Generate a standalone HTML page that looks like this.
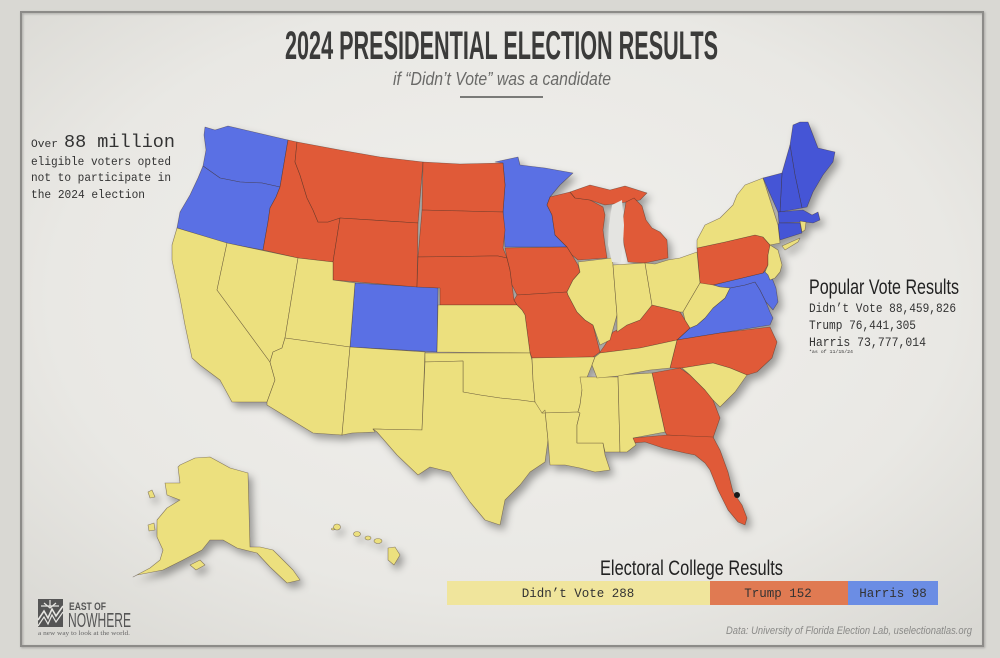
<!DOCTYPE html>
<html><head><meta charset="utf-8">
<style>
html,body{margin:0;padding:0;background:#d8d7d2;}
svg{display:block;}
</style></head>
<body>
<svg width="1000" height="658" viewBox="0 0 1000 658" xmlns="http://www.w3.org/2000/svg">
<defs>
<radialGradient id="bg" cx="50%" cy="45%" r="72%">
<stop offset="0" stop-color="#f1f0ed"/>
<stop offset="0.65" stop-color="#e9e8e4"/>
<stop offset="1" stop-color="#d9d8d3"/>
</radialGradient>
<filter id="sh" x="-10%" y="-10%" width="130%" height="130%">
<feDropShadow dx="4" dy="5" stdDeviation="4" flood-color="#000" flood-opacity="0.35"/>
</filter>
<filter id="fs" x="-5%" y="-5%" width="110%" height="110%">
<feDropShadow dx="1" dy="1" stdDeviation="1" flood-color="#000" flood-opacity="0.25"/>
</filter>
</defs>
<rect x="0" y="0" width="1000" height="658" fill="#d9d8d3"/>
<rect x="21" y="12" width="962" height="634" fill="url(#bg)"/>
<rect x="21" y="12" width="962" height="634" fill="none" stroke="#8c8b88" stroke-width="2" filter="url(#fs)"/>

<!-- Title -->
<text x="285" y="59" textLength="433" lengthAdjust="spacingAndGlyphs" font-family="'Liberation Sans Narrow','Liberation Sans',sans-serif" font-weight="bold" font-size="40" fill="#3b3b3a">2024 PRESIDENTIAL ELECTION RESULTS</text>
<text x="393" y="85" textLength="218" lengthAdjust="spacingAndGlyphs" font-family="'Liberation Sans Narrow','Liberation Sans',sans-serif" font-style="italic" font-size="18" fill="#6a6a68">if “Didn’t Vote” was a candidate</text>
<rect x="460" y="96" width="83" height="2" fill="#7a7a78"/>

<!-- Left text -->
<g font-family="'Liberation Mono',monospace" fill="#333">
<text x="31" y="147" font-size="11" textLength="27" lengthAdjust="spacingAndGlyphs">Over</text>
<text x="64" y="147" font-size="18" textLength="111" lengthAdjust="spacingAndGlyphs">88 million</text>
<text x="31" y="165" font-size="12" textLength="140" lengthAdjust="spacingAndGlyphs">eligible voters opted</text>
<text x="31" y="181" font-size="12" textLength="140" lengthAdjust="spacingAndGlyphs">not to participate in</text>
<text x="31" y="198" font-size="12" textLength="114" lengthAdjust="spacingAndGlyphs">the 2024 election</text>
</g>

<!-- Map -->
<g filter="url(#sh)" stroke="#3a2a20" stroke-width="0.6" stroke-opacity="0.55" stroke-linejoin="round">
<!-- blue -->
<g fill="#5a70e4">
<polygon points="205,127 215,130 228,126 258,133 288,140 280,187 262,183 240,182 220,178 203,166 206,150 204,135"/>
<polygon points="203,166 220,178 240,182 262,183 280,187 276,197 270,208 268,222 263,250 225,243 177,228 180,212 190,195 198,178"/>
<polygon points="355,283 438,288 437,352 350,347"/>
<polygon points="495,162 518,157 520,165 545,168 573,173 560,185 550,197 547,205 552,215 555,235 567,247 505,247 503,212 505,185 503,163"/>
<polygon points="677,340 690,328 697,325 705,318 713,308 725,298 730,288 745,285 755,282 760,290 765,300 770,312 773,318 770,325 720,333"/>
<polygon points="713,285 763,273 768,268 772,278 776,288 778,302 773,310 766,302 760,290 755,282 745,285 730,288 720,287"/>
</g>
<g fill="#4455d6">
<polygon points="793,125 800,122 808,122 818,148 835,152 833,162 823,175 813,192 807,207 802,208 795,175 790,145"/>
<polygon points="790,145 795,175 802,208 780,212 782,173"/>
<polygon points="763,178 782,173 780,212 778,212"/>
<polygon points="778,212 803,210 812,215 818,212 820,220 813,223 805,222 779,223"/>
<polygon points="779,223 800,223 802,233 780,240 778,225"/>
</g>
<!-- red -->
<g fill="#e05a37">
<polygon points="288,140 297,142 295,162 300,175 307,198 313,210 318,222 328,222 340,218 333,262 298,258 263,250 268,222 270,208 276,197 280,187"/>
<polygon points="297,142 340,150 380,157 423,162 418,223 340,218 328,222 318,222 313,210 307,198 300,175 295,162"/>
<polygon points="423,162 460,164 503,163 505,185 503,212 422,210"/>
<polygon points="422,210 503,212 505,230 503,248 507,258 498,256 490,256 418,257"/>
<polygon points="340,218 418,223 417,287 333,280 333,262"/>
<polygon points="418,257 490,256 498,256 507,258 510,270 512,285 514,300 517,305 440,305 440,288 417,287"/>
<polygon points="505,248 567,247 572,255 578,265 580,272 573,280 567,292 517,295 512,285 510,270 507,258"/>
<polygon points="517,295 567,292 568,295 577,312 585,320 593,325 600,352 592,358 590,357 532,358 530,353 525,315 522,310 517,305 514,300"/>
<polygon points="550,197 570,192 575,198 590,200 603,207 605,215 603,230 605,245 607,258 578,260 572,255 567,247 555,235 552,215 547,205"/>
<polygon points="570,192 590,185 610,190 625,186 647,193 640,200 620,203 605,205 590,200 575,198"/>
<polygon points="626,202 634,198 642,206 646,220 652,228 660,232 667,240 668,258 645,263 628,262 624,245 622,225"/>
<polygon points="600,352 605,345 613,332 627,325 640,320 652,305 665,308 680,312 685,320 690,328 677,340 640,348 600,353"/>
<polygon points="697,248 725,242 755,235 763,237 770,245 768,255 768,265 763,273 713,285 703,285 700,283"/>
<polygon points="677,340 720,333 770,327 777,342 772,358 757,372 747,375 730,368 713,363 682,368 670,368 674,352"/>
<polygon points="652,373 680,368 690,375 705,390 713,400 720,418 713,438 667,435 665,432"/>
<polygon points="633,438 667,435 713,437 720,450 728,472 733,492 742,505 747,518 745,525 738,522 728,510 718,490 710,470 705,463 695,455 685,453 663,448 645,442 633,443"/>
</g>
<!-- yellow -->
<g fill="#ece07e">
<polygon points="177,228 227,243 217,290 270,362 275,380 267,402 232,402 220,380 200,365 192,358 185,325 180,298 172,260 172,245"/>
<polygon points="227,243 298,258 285,338 282,348 273,352 270,362 217,290"/>
<polygon points="298,258 333,262 333,280 355,283 350,347 285,338"/>
<polygon points="285,338 350,347 342,435 313,433 267,405 267,402 275,380 270,362 273,352 282,348"/>
<polygon points="350,347 425,352 422,430 373,429 375,432 352,433 342,435"/>
<polygon points="438,305 517,305 522,310 525,315 530,353 437,352"/>
<polygon points="425,353 530,353 532,360 533,380 535,402 520,400 500,398 480,395 463,392 463,361 425,362"/>
<polygon points="425,362 463,361 463,392 480,395 500,398 520,400 535,402 545,410 548,440 545,462 530,472 520,485 505,500 500,525 485,520 470,502 455,480 450,472 430,467 418,475 397,455 377,432 373,429 422,430"/>
<polygon points="532,358 590,357 595,357 592,365 588,375 582,390 580,405 578,412 542,413 535,402 533,380"/>
<polygon points="542,413 578,412 580,413 577,425 577,443 603,443 605,455 610,470 595,472 580,468 565,465 550,465 548,440 545,410"/>
<polygon points="580,377 618,377 620,452 605,452 603,443 577,443 577,425 580,413 578,412 580,405 582,390"/>
<polygon points="618,375 652,373 665,432 633,438 636,445 627,452 620,452"/>
<polygon points="682,368 713,363 730,368 747,375 735,392 720,407 713,400 705,390 690,375"/>
<polygon points="600,353 640,348 677,340 670,368 650,370 618,376 597,378 592,365 595,357"/>
<polygon points="578,262 612,258 613,265 617,315 615,322 610,340 600,345 593,325 585,320 577,312 568,295 567,292 573,280 580,272"/>
<polygon points="613,265 645,263 652,305 640,320 627,325 617,332 617,315"/>
<polygon points="645,263 655,264 668,260 680,258 697,252 700,283 690,300 683,312 680,312 665,308 652,305"/>
<polygon points="700,283 713,285 720,287 730,288 725,298 713,308 705,318 697,325 690,328 685,320 683,312 690,300"/>
<polygon points="697,248 697,240 705,225 720,218 733,205 737,195 745,185 763,178 778,225 780,243 770,245 763,237 755,235 725,242"/>
<polygon points="770,245 778,250 782,265 780,272 775,278 770,280 768,275 765,272 768,265 768,255"/>
<polygon points="782,246 800,238 798,242 785,250"/>
<polygon points="800,221 806,222 805,230 802,232"/>
<!-- Alaska -->
<polygon points="180,465 195,458 210,457 230,468 248,473 250,547 260,547 273,550 285,562 293,570 300,580 287,583 270,567 257,553 237,548 223,540 210,540 202,550 183,560 163,570 137,575 133,577 150,568 160,560 163,550 157,537 157,520 167,508 180,500 167,495 165,483 180,483 178,467"/>
<polygon points="190,565 200,560 205,565 196,570"/>
<polygon points="148,492 152,490 155,497 150,498"/>
<polygon points="148,525 154,523 155,530 149,531"/>
<!-- Hawaii -->
<ellipse cx="333" cy="529" rx="1.5" ry="1"/>
<ellipse cx="337" cy="527" rx="3.5" ry="3"/>
<ellipse cx="357" cy="534" rx="3.5" ry="2.5"/>
<ellipse cx="368" cy="538" rx="3" ry="2"/>
<ellipse cx="378" cy="541" rx="4" ry="2.5"/>
<polygon points="388,548 395,547 400,555 394,565 388,560"/>
</g>
</g>
<!-- Lake Michigan -->
<polygon points="612,205 622,200 624,225 623,245 621,262 612,262 608,245 609,225" fill="#e4e4e1"/>
<circle cx="737" cy="495" r="3" fill="#1a1a1a"/>

<!-- Popular vote -->
<text x="809" y="294" textLength="150" lengthAdjust="spacingAndGlyphs" font-family="'Liberation Sans Narrow','Liberation Sans',sans-serif" font-size="21" fill="#222">Popular Vote Results</text>
<g font-family="'Liberation Mono',monospace" fill="#333" font-size="12.5">
<text x="809" y="312" textLength="147" lengthAdjust="spacingAndGlyphs">Didn’t Vote 88,459,826</text>
<text x="809" y="329" textLength="107" lengthAdjust="spacingAndGlyphs">Trump 76,441,305</text>
<text x="809" y="346" textLength="117" lengthAdjust="spacingAndGlyphs">Harris  73,777,014</text>
<text x="809" y="353" font-size="4.5" textLength="44" lengthAdjust="spacingAndGlyphs">*as of 11/15/24</text>
</g>

<!-- Electoral College -->
<text x="600" y="575" textLength="183" lengthAdjust="spacingAndGlyphs" font-family="'Liberation Sans Narrow','Liberation Sans',sans-serif" font-size="21" fill="#222">Electoral College Results</text>
<rect x="447" y="581" width="263" height="24" fill="#f0e59c"/>
<rect x="710" y="581" width="138" height="24" fill="#e07a52"/>
<rect x="848" y="581" width="90" height="24" fill="#6b8de4"/>
<g font-family="'Liberation Mono',monospace" font-size="12.5" fill="#333" text-anchor="middle">
<text x="578" y="597">Didn’t Vote 288</text>
<text x="778" y="597">Trump 152</text>
<text x="893" y="597">Harris 98</text>
</g>

<text x="972" y="634" text-anchor="end" font-family="'Liberation Sans Narrow','Liberation Sans',sans-serif" font-style="italic" font-size="11" fill="#8a8a88" textLength="246" lengthAdjust="spacingAndGlyphs">Data: University of Florida Election Lab, uselectionatlas.org</text>

<!-- Logo -->
<rect x="38" y="599" width="25" height="28" fill="#555"/>
<polyline points="38,620 44,611 48,618 52,609 56,616 63,606" fill="none" stroke="#e8e7e3" stroke-width="1.6"/>
<polyline points="38,626 44,617 48,624 52,615 56,622 63,612" fill="none" stroke="#e8e7e3" stroke-width="1.2"/>
<path d="M44,603 L50,608 L56,603 M50,600 L50,606 M41,606 L59,606" fill="none" stroke="#e8e7e3" stroke-width="1.2"/>
<text x="69" y="610" textLength="37" lengthAdjust="spacingAndGlyphs" font-family="'Liberation Sans',sans-serif" font-weight="bold" font-size="11" fill="#555">EAST OF</text>
<text x="68" y="627" textLength="63" lengthAdjust="spacingAndGlyphs" font-family="'Liberation Sans Narrow','Liberation Sans',sans-serif" font-size="20" fill="#555">NOWHERE</text>
<text x="38" y="635" textLength="92" lengthAdjust="spacingAndGlyphs" font-family="'Liberation Serif',serif" font-size="6.5" fill="#666">a new way to look at the world.</text>
</svg>
</body></html>
